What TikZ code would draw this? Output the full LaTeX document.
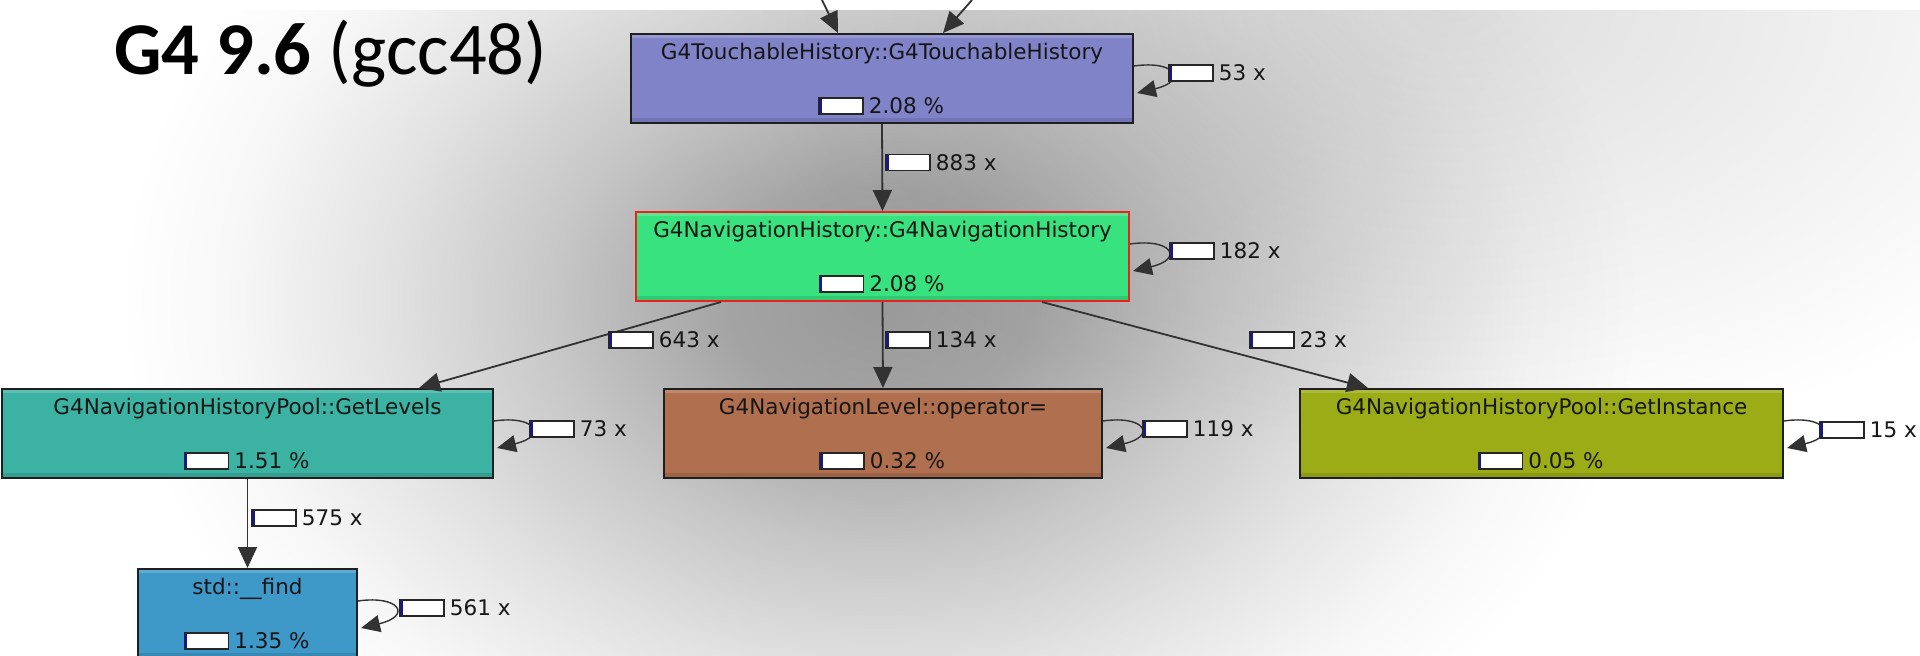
\documentclass[tikz,border=0pt]{standalone}
\usepackage{fontspec}
\setmainfont{DejaVu Sans}
\newfontfamily\titlefont{Carlito}
\usetikzlibrary{arrows.meta,calc}

\definecolor{cTouch}{RGB}{128,131,200}
\definecolor{cNav}{RGB}{56,226,126}
\definecolor{cLev}{RGB}{59,178,162}
\definecolor{cOp}{RGB}{176,111,78}
\definecolor{cInst}{RGB}{156,172,22}
\definecolor{cFind}{RGB}{62,153,201}
\definecolor{txt}{RGB}{22,22,22}
\definecolor{edgec}{RGB}{50,50,50}
\definecolor{barblue}{RGB}{20,20,170}
\definecolor{navred}{RGB}{236,32,32}
\colorlet{bgA}{black!40}
\colorlet{bgB}{black!36}
\colorlet{bgC}{black!22}
\colorlet{bgD}{black!11}
\colorlet{bgE}{black!3}
\pgfdeclareradialshading{bgshade}{\pgfpoint{0bp}{0bp}}{%
 color(0bp)=(bgA); color(4.6bp)=(bgB); color(10bp)=(bgC); color(15.2bp)=(bgD); color(19.8bp)=(bgE); color(23.2bp)=(white); color(50bp)=(white)}

\tikzset{
 fnbox/.style={draw=black!88, line width=2pt, fill=#1, minimum height=89pt, inner sep=0pt,
   path picture={
     \fill[white,opacity=0.18] (path picture bounding box.north west) rectangle ([yshift=-4pt]path picture bounding box.north east);
     \fill[black,opacity=0.10] ([yshift=5pt]path picture bounding box.south west) rectangle (path picture bounding box.south east);
   }},
 fntext/.style={inner sep=0pt, text=txt, font=\fontsize{21.5pt}{24pt}\selectfont},
 costbar/.style={draw=black!85, line width=1.5pt, fill=white, minimum width=44pt, minimum height=16pt, inner sep=0pt,
   path picture={\fill[barblue] (path picture bounding box.south west) rectangle ([xshift=2.5pt]path picture bounding box.north west);}},
 edge/.style={draw=edgec, line width=1.8pt, -{Triangle[length=21pt,width=19pt]}},
 loopedge/.style={draw=edgec, line width=1.4pt, -{Triangle[length=19pt,width=17pt]}},
}

\newcommand{\selfloop}[1]{%
 \draw[loopedge] ($(#1.north east)+(0,33)$) .. controls ($(#1.north east)+(42,27)$) and ($(#1.north east)+(54,48)$) .. ($(#1.north east)+(3,60)$);}

\begin{document}
\begin{tikzpicture}[x=1pt,y=-1pt]
\useasboundingbox (0,0) rectangle (1920,656);
\fill[white] (0,0) rectangle (1920,656);
\begin{scope}
 \clip (93,10) rectangle (1920,656);
 \shade[shading=bgshade] (880,300) ellipse [x radius=820pt, y radius=620pt];
 \begin{scope}[blend mode=multiply]
  \shade[inner color=black!13, outer color=white] (1450,0) ellipse [x radius=720pt, y radius=460pt];
 \end{scope}
\end{scope}

% title
\node[anchor=base west, inner sep=0pt, font=\titlefont\fontsize{74.5pt}{78pt}\selectfont] (title) at (114,74) {\textbf{G4 9.6} (gcc48)};

% boxes (positions only)
\path (882,78.5) coordinate (ptouch) (882.5,256.5) coordinate (pnav) (247.5,433.5) coordinate (plev)
      (883,433.5) coordinate (pop) (1541.5,433.5) coordinate (pinst) (247.5,613.5) coordinate (pfind);
\node[fnbox=cTouch, minimum width=502pt] (touch) at (ptouch) {};
\node[fnbox=cNav, draw=navred, minimum width=493pt] (nav) at (pnav) {};
\node[fnbox=cLev, minimum width=491pt] (levels) at (plev) {};
\node[fnbox=cOp, minimum width=438pt] (oper) at (pop) {};
\node[fnbox=cInst, minimum width=483pt] (inst) at (pinst) {};
\node[fnbox=cFind, minimum width=219pt] (find) at (pfind) {};

% incoming edges
\coordinate (in1) at (822,0);
\coordinate (in2) at (972,0);
\draw[edge] (in1) -- ($(touch.north west)+(208,0)$);
\draw[edge] (in2) -- ($(touch.north west)+(313,0)$);

% edges
\draw[edge] (touch.south) -- (nav.north);
\draw[edge] ($(nav.south west)+(86,0)$) -- ($(levels.north west)+(418,0)$);
\draw[edge] (nav.south) -- (oper.north);
\draw[edge] ($(nav.south west)+(407,0)$) -- ($(inst.north west)+(69,0)$);
\draw[edge] (levels.south) -- (find.north);

% self loops
\selfloop{touch}
\selfloop{nav}
\selfloop{levels}
\selfloop{oper}
\selfloop{inst}
\selfloop{find}

% box texts
\foreach \b/\t/\p in {touch/G4TouchableHistory::G4TouchableHistory/2.08,
                      nav/G4NavigationHistory::G4NavigationHistory/2.08,
                      levels/G4NavigationHistoryPool::GetLevels/1.51,
                      oper/G4NavigationLevel::operator=/0.32,
                      inst/G4NavigationHistoryPool::GetInstance/0.05,
                      find/std::\_\_find/1.35}{
  \node[fntext, anchor=base] (\b T) at ($(\b.north)+(0,26)$) {\t};
  \node[costbar] (\b B) at ($(\b.north)+(-41,73)$) {};
  \node[fntext, anchor=base west] (\b P) at ($(\b B.south east)+(5,-1)$) {\p\ \%};
}

% call count labels
\foreach \n/\x/\y/\t in {l883/908/162.5/883 x, l643/631/340/643 x, l134/908/340/134 x,
                         l23/1272/340/23 x, l575/274/518/575 x,
                         s53/1191/73/53 x, s182/1192/251/182 x, s73/552/429/73 x,
                         s119/1165/429/119 x, s15/1842/430/15 x, s561/422/608/561 x}{
  \node[costbar] (\n) at (\x,\y) {};
  \node[fntext, anchor=base west] (\n t) at ($(\n.south east)+(5,-1)$) {\t};
}
\end{tikzpicture}
\end{document}
